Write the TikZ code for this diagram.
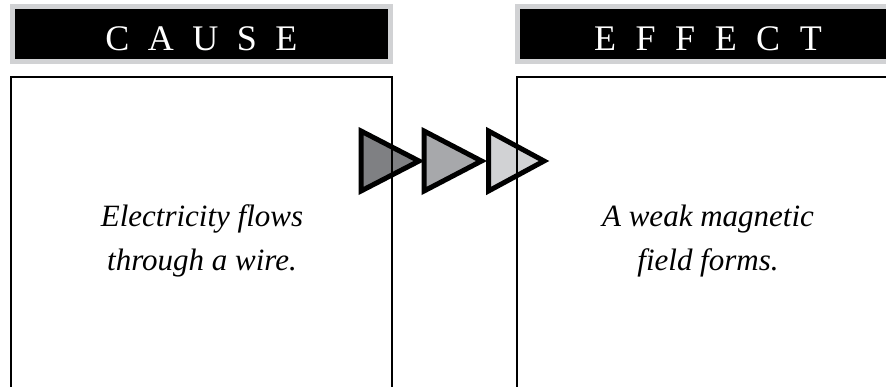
\documentclass[tikz,border=0pt]{standalone}
\usepackage{fontspec}
\setmainfont{Liberation Serif}
\definecolor{hdrgray}{HTML}{D1D2D4}
\definecolor{arrA}{HTML}{7F8083}
\definecolor{arrB}{HTML}{A7A8AB}
\definecolor{arrC}{HTML}{D1D2D4}
\newcommand{\hgap}{\hspace{18.5pt}}
\newcommand{\egap}{\hspace{19.5pt}}
\tikzset{
  hdrouter/.style={fill=hdrgray},
  hdrinner/.style={fill=black},
  hdrtext/.style={text=white, font=\fontsize{36}{40}\selectfont, inner sep=0pt, anchor=base},
  boxline/.style={draw=black, line width=2pt},
  chevron/.style={draw=black, line width=5pt, miter limit=10},
  bodytext/.style={font=\fontsize{31}{44}\selectfont\itshape, align=center, inner sep=0pt, anchor=base}
}
\begin{document}
\begin{tikzpicture}[x=1pt,y=-1pt]
\useasboundingbox (0,0) rectangle (886,386);
\clip (0,0) rectangle (886,386);
% headers
\fill[hdrouter] (10,4) rectangle (393,64);
\fill[hdrinner] (15,9) rectangle (388,59);
\fill[hdrouter] (515,4) rectangle (901,64);
\fill[hdrinner] (520,9) rectangle (896,59);
\node[hdrtext] (causehdr) at (201.5,50) {C\hgap A\hgap U\hgap S\hgap E};
\node[hdrtext] (effecthdr) at (708,50) {E\egap F\egap F\egap E\egap C\egap T};
% chevrons
\filldraw[chevron, fill=arrA] (361,131) -- (361,191) -- (419,161) -- cycle;
\filldraw[chevron, fill=arrB] (424,131) -- (424,191) -- (481.5,161) -- cycle;
\filldraw[chevron, fill=arrC] (488.5,131) -- (488.5,191) -- (544,161) -- cycle;
% boxes
\draw[boxline] (11,400) -- (11,77) -- (392,77) -- (392,400);
\draw[boxline] (517,400) -- (517,77) -- (910,77);
% texts (base anchor = baseline of last line)
\node[bodytext] (causetext) at (202,270) {Electricity flows\\through a wire.};
\node[bodytext] (effecttext) at (708,270) {A weak magnetic\\field forms.};
\end{tikzpicture}
\end{document}
